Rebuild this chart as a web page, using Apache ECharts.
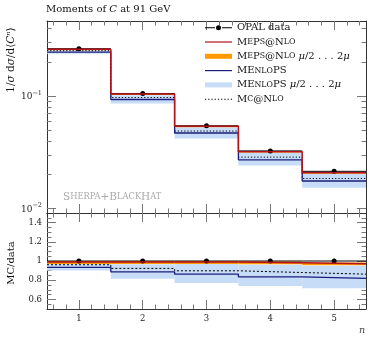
<!DOCTYPE html>
<html><head><meta charset="utf-8">
<script src="https://cdn.jsdelivr.net/npm/echarts@6/dist/echarts.min.js"></script>
<style>html,body{margin:0;padding:0;background:#fff}#c{width:378px;height:341px}</style>
</head><body><div id="c"></div><script>
// ---- data ----
const binEdges = [0.5, 1.5, 2.5, 3.5, 4.5, 5.5];
const binCentres = [1, 2, 3, 4, 5];
const xTickLabels = [1, 2, 3, 4, 5];
const xMinorTicks = [0.6,0.8,1.2,1.4,1.6,1.8,2.2,2.4,2.6,2.8,3.2,3.4,3.6,3.8,4.2,4.4,4.6,4.8,5.2,5.4];
const yMainMajor = [0.01, 0.1];
const yMainMinor = [0.02,0.03,0.04,0.05,0.06,0.07,0.08,0.09,0.2,0.3,0.4];
const yRatioMajor = [0.6, 0.8, 1, 1.2, 1.4];
const yRatioMinor = [0.55,0.65,0.7,0.75,0.85,0.9,0.95,1.05,1.1,1.15,1.25,1.3,1.35,1.45];

// main panel values
const opal       = [0.263, 0.105, 0.0543, 0.0325, 0.0214];
const mepsNlo    = [0.260, 0.104, 0.0538, 0.0319, 0.0208];
const mepsLo     = [0.255, 0.102, 0.0527, 0.0314, 0.0204];
const mepsHi     = [0.263, 0.105, 0.0543, 0.0323, 0.0211];
const menlops    = [0.2456, 0.0931, 0.0469, 0.0271, 0.01755];
const menlopsLo  = [0.237, 0.0856, 0.0418, 0.02405, 0.0153];
const menlopsHi  = [0.255, 0.1013, 0.0527, 0.0312, 0.0203];
const mcatnlo    = [0.2527, 0.0969, 0.0488, 0.0286, 0.01847];

// ratio panel values
const rOpal      = [1, 1, 1, 1, 1];
const rMeps      = [0.99, 0.99, 0.99, 0.982, 0.972];
const rMepsLo    = [0.97, 0.97, 0.97, 0.965, 0.955];
const rMepsHi    = [1.0, 1.0, 1.0, 0.995, 0.985];
const rMenlops   = [0.934, 0.887, 0.863, 0.835, 0.82];
const rMenlopsLo = [0.90, 0.815, 0.77, 0.74, 0.716];
const rMenlopsHi = [0.97, 0.965, 0.97, 0.96, 0.95];
const rMcatnlo   = [0.961, 0.923, 0.898, 0.88, 0.863];

// ---- styling ----
const FONT = 'DejaVu Serif';
const RED = '#b3141c', BLUE = '#1c1c7c', ORANGE = '#ff9a00', LBLUE = '#c6dcf7';
const TICK = '#777', FRAME = '#333';

function stepPts(vals){ const o=[]; vals.forEach((v,i)=>{o.push([binEdges[i],v]);o.push([binEdges[i+1],v]);}); return o; }
function bandData(lo,hi){ return lo.map((l,i)=>[binEdges[i],binEdges[i+1],l,hi[i]]); }
function dataPts(vals){ return vals.map((v,i)=>[binEdges[i],binEdges[i+1],binCentres[i],v]); }

function renderBand(color){
  return function(params, api){
    const a = api.coord([api.value(0), api.value(3)]);
    const b = api.coord([api.value(1), api.value(2)]);
    return {type:'rect', shape:{x:a[0], y:a[1], width:b[0]-a[0], height:b[1]-a[1]}, style:{fill:color}};
  };
}
function renderData(params, api){
  const a = api.coord([api.value(0), api.value(3)]);
  const b = api.coord([api.value(1), api.value(3)]);
  const c = api.coord([api.value(2), api.value(3)]);
  return {type:'group', children:[
    {type:'line', shape:{x1:a[0], y1:a[1], x2:b[0], y2:b[1]}, style:{stroke:'#000', lineWidth:1}},
    {type:'circle', shape:{cx:c[0], cy:c[1], r:2.5}, style:{fill:'#000'}}
  ]};
}

function xAx(grid, pos, ticks, len, extra){
  return Object.assign({type:'value', gridIndex:grid, position:pos, min:0.5, max:5.5,
    axisLine:{show:false, onZero:false},
    axisTick:{show:true, inside:true, length:len, customValues:ticks, lineStyle:{color:TICK}},
    axisLabel:{show:false}, splitLine:{show:false}}, extra||{});
}
function yAx(grid, pos, type, min, max, ticks, len, extra){
  return Object.assign({type:type, gridIndex:grid, position:pos, min:min, max:max,
    axisLine:{show:false, onZero:false},
    axisTick:{show:true, inside:true, length:len, customValues:ticks, lineStyle:{color:TICK}},
    axisLabel:{show:false}, splitLine:{show:false}}, extra||{});
}
const frameLine = {show:true, onZero:false, lineStyle:{color:FRAME, width:1}};
const MIN_LOG = 0.00912, MAX_LOG = 0.464;

const nameMEPS = 'MEPS@NLO', nameMEPSb = 'MEPS@NLO μ/2...2μ', nameMEN = 'MENLOPS', nameMENb = 'MENLOPS μ/2...2μ', nameMC = 'MC@NLO', nameData = 'OPAL data';
const legendRich = {
  n:{fontFamily:FONT, fontSize:10, lineHeight:12, color:'#111'},
  s:{fontFamily:FONT, fontSize:7.8, lineHeight:12, color:'#111'},
  i:{fontFamily:FONT, fontSize:10, fontStyle:'italic', lineHeight:12, color:'#111'}
};
const legendText = {};
legendText[nameData] = '{n|OPAL data}';
legendText[nameMEPS] = '{n|M}{s|E}{n|P}{s|S}{n|@N}{s|LO}';
legendText[nameMEPSb] = '{n|M}{s|E}{n|P}{s|S}{n|@N}{s|LO}{n| }{i|μ}{n|/2 . . . 2}{i|μ}';
legendText[nameMEN] = '{n|ME}{s|NLO}{n|PS}';
legendText[nameMENb] = '{n|ME}{s|NLO}{n|PS }{i|μ}{n|/2 . . . 2}{i|μ}';
legendText[nameMC] = '{n|M}{s|C}{n|@N}{s|LO}';

// legend sample shapes
const iconLine = 'path://M0,0H27V1.2H0Z';
let dots = ''; for (let k = 0; k < 9; k++) { const x0 = k * 3.1; dots += 'M' + x0 + ',0H' + (x0 + 1.2) + 'V1H' + x0 + 'Z '; }
const iconDots = 'path://' + dots;
const iconData = 'path://M0,2H10V3H0Z M11,2.5A2.5,2.5 0 1 1 16,2.5A2.5,2.5 0 1 1 11,2.5Z M17,2H27V3H17Z';

const chart = echarts.init(document.getElementById('c'), null, {renderer:'canvas'});
chart.setOption({
  animation:false,
  backgroundColor:'#fff',
  title:{text:'{n|Moments of }{i|C}{n| at 91 GeV}', left:46, top:2, padding:0,
    textStyle:{fontWeight:'normal', rich:{n:{fontFamily:FONT, fontSize:10, fontWeight:'normal', color:'#111', lineHeight:14}, i:{fontFamily:FONT, fontSize:10, fontWeight:'normal', fontStyle:'italic', color:'#111', lineHeight:14}}}},
  legend:{orient:'vertical', left:205, top:22.7, itemWidth:27, itemHeight:5, itemGap:4.3, itemTextGap:5,
    selectedMode:false, symbolKeepAspect:true, padding:0,
    data:[
      {name:nameData, icon:iconData},
      {name:nameMEPS, icon:iconLine},
      {name:nameMEPSb, icon:'rect'},
      {name:nameMEN, icon:iconLine},
      {name:nameMENb, icon:'rect'},
      {name:nameMC, icon:iconDots}
    ],
    formatter:function(n){return legendText[n];},
    textStyle:{rich:legendRich}
  },
  grid:[
    {left:47, top:21, width:319, height:192},
    {left:47, top:213, width:319, height:96}
  ],
  xAxis:[
    xAx(0,'bottom',xTickLabels,9,{axisLine:frameLine}),
    xAx(0,'top',xTickLabels,9,{axisLine:frameLine}),
    xAx(0,'bottom',xMinorTicks,4.5),
    xAx(0,'top',xMinorTicks,4.5),
    xAx(1,'bottom',xTickLabels,9,{axisLine:frameLine,
      axisLabel:{show:true, customValues:xTickLabels, margin:5, fontFamily:FONT, fontSize:8.5, color:'#222'}}),
    xAx(1,'top',xTickLabels,9,{axisLine:frameLine}),
    xAx(1,'bottom',xMinorTicks,4.5),
    xAx(1,'top',xMinorTicks,4.5)
  ],
  yAxis:[
    yAx(0,'left','log',MIN_LOG,MAX_LOG,yMainMajor,9,{axisLine:frameLine, logBase:10,
      axisLabel:{show:true, customValues:yMainMajor, margin:5,
        formatter:function(v){const e=Math.round(Math.log10(v)); return '{b|10}{e|'+(e<0?'−':'')+Math.abs(e)+'}';},
        rich:{b:{fontFamily:FONT, fontSize:9, color:'#222', lineHeight:12, padding:[5,0,3,0]},
              e:{fontFamily:FONT, fontSize:6.5, color:'#222', lineHeight:8, padding:[3,0,9,0]}}}}),
    yAx(0,'right','log',MIN_LOG,MAX_LOG,yMainMajor,9,{axisLine:frameLine, logBase:10}),
    yAx(0,'left','log',MIN_LOG,MAX_LOG,yMainMinor,4.5,{logBase:10}),
    yAx(0,'right','log',MIN_LOG,MAX_LOG,yMainMinor,4.5,{logBase:10}),
    yAx(1,'left','value',0.5,1.5,yRatioMajor,9,{axisLine:frameLine,
      axisLabel:{show:true, customValues:yRatioMajor, margin:5, fontFamily:FONT, fontSize:8.5, color:'#222'}}),
    yAx(1,'right','value',0.5,1.5,yRatioMajor,9,{axisLine:frameLine}),
    yAx(1,'left','value',0.5,1.5,yRatioMinor,4.5),
    yAx(1,'right','value',0.5,1.5,yRatioMinor,4.5)
  ],
  graphic:[
    {type:'text', x:11, y:60, rotation:Math.PI/2, style:{
      text:'{n|1/}{i|σ}{n| d}{i|σ}{n|/d⟨}{i|C}{i|ⁿ}{n|⟩}', align:'center', verticalAlign:'middle',
      rich:{n:{fontFamily:FONT, fontSize:10.5, fill:'#111'}, i:{fontFamily:FONT, fontSize:10.5, fontStyle:'italic', fill:'#111'}}}},
    {type:'text', x:11, y:263, rotation:Math.PI/2, style:{
      text:'MC/data', align:'center', verticalAlign:'middle', fontFamily:FONT, fontSize:10, fill:'#111'}},
    {type:'text', x:362, y:331, style:{
      text:'n', align:'center', verticalAlign:'middle', fontFamily:FONT, fontSize:9.5, fontStyle:'italic', fill:'#444'}},
    {type:'text', x:63, y:197, style:{
      text:'{c|S}{s|HERPA}{c|+B}{s|LACK}{c|H}{s|AT}', align:'left', verticalAlign:'middle',
      rich:{c:{fontFamily:FONT, fontSize:10.5, fill:'#aaa'}, s:{fontFamily:FONT, fontSize:8.3, fill:'#aaa'}}}}
  ],
  series:[
    // main panel
    {name:nameMENb, type:'custom', xAxisIndex:0, yAxisIndex:0, itemStyle:{color:LBLUE}, renderItem:renderBand(LBLUE), data:bandData(menlopsLo,menlopsHi), encode:{x:[0,1], y:[2,3]}},
    {name:nameMEPSb, type:'custom', xAxisIndex:0, yAxisIndex:0, itemStyle:{color:ORANGE}, renderItem:renderBand(ORANGE), data:bandData(mepsLo,mepsHi), encode:{x:[0,1], y:[2,3]}},
    {name:nameMC, type:'line', xAxisIndex:0, yAxisIndex:0, symbol:'none', data:stepPts(mcatnlo), lineStyle:{color:'#000', width:1, type:[1.2,2]}, itemStyle:{color:'#000'}},
    {name:nameMEN, type:'line', xAxisIndex:0, yAxisIndex:0, symbol:'none', data:stepPts(menlops), lineStyle:{color:BLUE, width:1.3}, itemStyle:{color:BLUE}},
    {name:nameMEPS, type:'line', xAxisIndex:0, yAxisIndex:0, symbol:'none', data:stepPts(mepsNlo), lineStyle:{color:RED, width:1.5}, itemStyle:{color:RED}},
    {name:nameData, type:'custom', xAxisIndex:0, yAxisIndex:0, itemStyle:{color:'#000'}, renderItem:renderData, data:dataPts(opal), encode:{x:[0,1,2], y:3}},
    // ratio panel
    {name:nameMENb, type:'custom', xAxisIndex:4, yAxisIndex:4, itemStyle:{color:LBLUE}, renderItem:renderBand(LBLUE), data:bandData(rMenlopsLo,rMenlopsHi), encode:{x:[0,1], y:[2,3]}},
    {name:nameMEPSb, type:'custom', xAxisIndex:4, yAxisIndex:4, itemStyle:{color:ORANGE}, renderItem:renderBand(ORANGE), data:bandData(rMepsLo,rMepsHi), encode:{x:[0,1], y:[2,3]}},
    {name:nameMC, type:'line', xAxisIndex:4, yAxisIndex:4, symbol:'none', data:stepPts(rMcatnlo), lineStyle:{color:'#000', width:1, type:[2,2]}, itemStyle:{color:'#000'}},
    {name:nameMEN, type:'line', xAxisIndex:4, yAxisIndex:4, symbol:'none', data:stepPts(rMenlops), lineStyle:{color:BLUE, width:1.3}, itemStyle:{color:BLUE}},
    {name:nameMEPS, type:'line', xAxisIndex:4, yAxisIndex:4, symbol:'none', data:stepPts(rMeps), lineStyle:{color:RED, width:1.5}, itemStyle:{color:RED}},
    {name:nameData, type:'custom', xAxisIndex:4, yAxisIndex:4, itemStyle:{color:'#000'}, renderItem:renderData, data:dataPts(rOpal), encode:{x:[0,1,2], y:3}}
  ]
});
</script></body></html>
